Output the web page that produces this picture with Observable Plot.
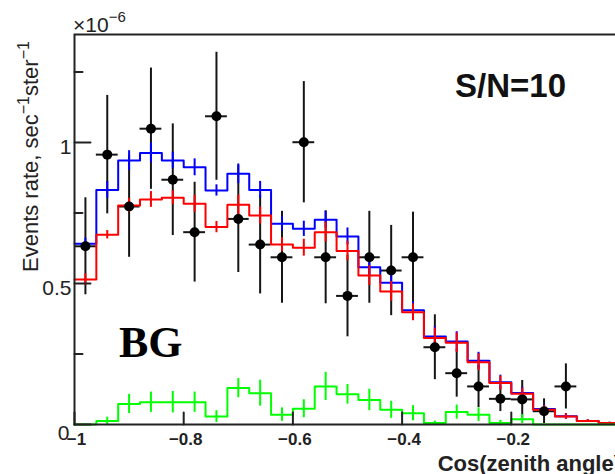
<!DOCTYPE html>
<html>
<head>
<meta charset="utf-8">
<script src="https://cdn.jsdelivr.net/npm/d3@7"></script>
<script src="https://cdn.jsdelivr.net/npm/@observablehq/plot@0.6"></script>
<style>
  html, body { margin: 0; padding: 0; background: #fff; overflow: hidden; }
  #wrap { width: 615px; height: 474px; overflow: hidden; position: relative; }
  #wrap svg { display: block; max-width: none !important; }
</style>
</head>
<body>
<div id="wrap"></div>
<script>
// ---------- data (rates in units of 1e-6 sec^-1 ster^-1) ----------
const binEdges = [-1.00, -0.96, -0.92, -0.88, -0.84, -0.80, -0.76, -0.72, -0.68, -0.64,
                  -0.60, -0.56, -0.52, -0.48, -0.44, -0.40, -0.36, -0.32, -0.28, -0.24,
                  -0.20, -0.16, -0.12, -0.08, -0.04, 0.00];

const blueRate = [0.641, 0.832, 0.936, 0.963, 0.936, 0.912, 0.830, 0.889, 0.832, 0.712,
                  0.694, 0.726, 0.667, 0.558, 0.503, 0.405, 0.312, 0.294, 0.226, 0.150,
                  0.112, 0.055, 0.029, 0.012, 0.005];
const blueErr  = [0.020, 0.030, 0.035, 0.035, 0.030, 0.030, 0.020, 0.035, 0.030, 0.027,
                  0.027, 0.030, 0.030, 0.030, 0.030, 0.030, 0.035, 0.035, 0.030, 0.025,
                  0.020, 0.015, 0.010, 0.005, 0.003];

const redRate  = [0.514, 0.673, 0.777, 0.798, 0.804, 0.783, 0.700, 0.779, 0.741, 0.638,
                  0.627, 0.682, 0.615, 0.528, 0.472, 0.398, 0.307, 0.290, 0.221, 0.147,
                  0.109, 0.052, 0.028, 0.012, 0.005];
const redErr   = [0.020, 0.015, 0.025, 0.028, 0.025, 0.030, 0.020, 0.035, 0.030, 0.025,
                  0.030, 0.035, 0.035, 0.035, 0.035, 0.030, 0.035, 0.035, 0.030, 0.025,
                  0.020, 0.015, 0.010, 0.005, 0.003];

const greenRate = [0.000, 0.012, 0.073, 0.079, 0.079, 0.079, 0.028, 0.129, 0.111, 0.035,
                   0.056, 0.135, 0.107, 0.087, 0.052, 0.040, 0.005, 0.044, 0.035, 0.005,
                   0.019, 0.000, 0.000, 0.000, 0.000];
const greenErr  = [0.000, 0.014, 0.034, 0.036, 0.038, 0.036, 0.021, 0.034, 0.046, 0.024,
                   0.032, 0.050, 0.035, 0.038, 0.030, 0.027, 0.007, 0.025, 0.024, 0.010,
                   0.016, 0.000, 0.000, 0.000, 0.000];

const dataRate = [0.632, 0.957, 0.773, 1.049, 0.868, 0.682, 1.093, 0.729, 0.638, 0.593,
                  1.001, 0.593, 0.456, 0.593, 0.546, 0.593, 0.274, 0.182, 0.135, 0.091,
                  0.089, 0.047, 0.135];
const dataErr  = [0.172, 0.210, 0.180, 0.215, 0.198, 0.177, 0.227, 0.190, 0.175, 0.163,
                  0.215, 0.165, 0.145, 0.163, 0.160, 0.160, 0.115, 0.085, 0.075, 0.045,
                  0.067, 0.044, 0.080];

const xTickValues = [-1, -0.8, -0.6, -0.4, -0.2, 0];
const xTickLabels = ["\u22121", "\u22120.8", "\u22120.6", "\u22120.4", "\u22120.2", "0"];
const yTickValues = [0, 0.5, 1];
const yTickLabels = ["0", "0.5", "1"];
const yMinorTicks = [0.25, 0.75, 1.25];
const yMax = 1.383;

// ---------- derived tables ----------
const bins = (rates, errs) => rates.map((v, i) => ({
  x0: binEdges[i], x1: binEdges[i + 1], xc: (binEdges[i] + binEdges[i + 1]) / 2,
  v, e: errs[i]
}));
const steps = (rates) => binEdges.map((e, i) => ({x: e, y: rates[Math.min(i, rates.length - 1)]}));

const blueBins = bins(blueRate, blueErr);
const redBins = bins(redRate, redErr);
const greenBins = bins(greenRate, greenErr).filter(d => d.e > 0);
const dataBins = bins(dataRate, dataErr);

const tickShape = {draw(context, l) { context.moveTo(0, 0); context.lineTo(0, -l); }};

const SANS = "'Liberation Sans', Arial, Helvetica, sans-serif";
const SERIF = "'Liberation Serif', 'Times New Roman', serif";

const histMarks = (rates, tbl, color) => [
  Plot.line(steps(rates), {x: "x", y: "y", curve: "step-after", stroke: color, strokeWidth: 2}),
  Plot.ruleX(tbl, {x: "xc", y1: d => d.v - d.e, y2: d => d.v + d.e, stroke: color, strokeWidth: 2})
];

const svg = Plot.plot({
  width: 645,
  height: 474,
  marginLeft: 74,
  marginRight: 25,
  marginTop: 34,
  marginBottom: 50,
  x: {domain: [-1, 0], axis: null},
  y: {domain: [0, yMax], axis: null},
  style: {background: "white", fontFamily: SANS, overflow: "visible"},
  marks: [
    // data error bars (drawn first, histograms on top)
    Plot.ruleX(dataBins, {x: "xc", y1: d => d.v - d.e, y2: d => d.v + d.e, stroke: "#151515", strokeWidth: 2}),
    Plot.ruleY(dataBins, {y: "v", x1: "x0", x2: "x1", stroke: "#151515", strokeWidth: 2}),
    ...histMarks(blueRate, blueBins, "#0000ff"),
    ...histMarks(redRate, redBins, "#ff0000"),
    ...histMarks(greenRate, greenBins, "#00ff00"),
    Plot.dot(dataBins, {x: "xc", y: "v", r: 5, fill: "#000", stroke: "none"}),
    // frame + ticks
    Plot.frame({stroke: "#222", strokeWidth: 2}),
    Plot.vector(xTickValues, {x: d => d, y: 0, length: 12, rotate: 0, anchor: "start", shape: tickShape, stroke: "#222", strokeWidth: 2}),
    Plot.vector(yTickValues, {x: -1, y: d => d, length: 16, rotate: 90, anchor: "start", shape: tickShape, stroke: "#222", strokeWidth: 2}),
    Plot.vector(yMinorTicks, {x: -1, y: d => d, length: 8, rotate: 90, anchor: "start", shape: tickShape, stroke: "#222", strokeWidth: 2}),
    // tick labels
    Plot.text(xTickValues, {x: d => d, y: 0, text: (d, i) => xTickLabels[i], dx: 2, dy: 15, fontSize: 17, fontWeight: "bold", fill: "#222", textAnchor: "middle"}),
    Plot.text(yTickValues.slice(1), {x: -1, y: d => d, text: (d, i) => yTickLabels[i + 1], dx: -3, dy: 5, fontSize: 21, fill: "#222", textAnchor: "end"}),
    Plot.text(yTickValues.slice(0, 1), {x: -1, y: d => d, text: (d, i) => yTickLabels[i], dx: -5, dy: 9, fontSize: 21, fill: "#222", textAnchor: "end"})
  ]
});
svg.style.maxWidth = "none";
svg.style.width = "645px";
svg.style.height = "474px";

document.getElementById("wrap").appendChild(svg);

// ---------- annotations & axis titles (real text with superscripts) ----------
const s = d3.select(svg);
const g = s.append("g").attr("fill", "#222").attr("font-family", SANS).attr("text-anchor", "start");

// x 10^-6 multiplier
const mult = g.append("text").attr("x", 73).attr("y", 32).attr("font-size", 21);
mult.append("tspan").text("\u00d710");
mult.append("tspan").attr("font-size", 15).attr("dy", -10).text("\u22126");

// y axis title
const yt = g.append("text").attr("transform", "translate(38,272) rotate(-90)").attr("font-size", 22);
yt.append("tspan").text("Events rate, sec");
yt.append("tspan").attr("font-size", 16).attr("dy", -9).text("\u22121");
yt.append("tspan").attr("dy", 9).text("ster");
yt.append("tspan").attr("font-size", 16).attr("dy", -9).text("\u22121");

// x axis title
g.append("text").attr("x", 621).attr("y", 471).attr("text-anchor", "end")
  .attr("font-size", 22).attr("font-weight", "bold").text("Cos(zenith angle)");

// S/N label
g.append("text").attr("x", 455).attr("y", 97).attr("font-size", 33).attr("font-weight", "bold")
  .attr("fill", "#111").text("S/N=10");

// BG label
g.append("text").attr("x", 119).attr("y", 357).attr("font-size", 44).attr("font-weight", "bold")
  .attr("font-family", SERIF).attr("fill", "#000").text("BG");
</script>
</body>
</html>
